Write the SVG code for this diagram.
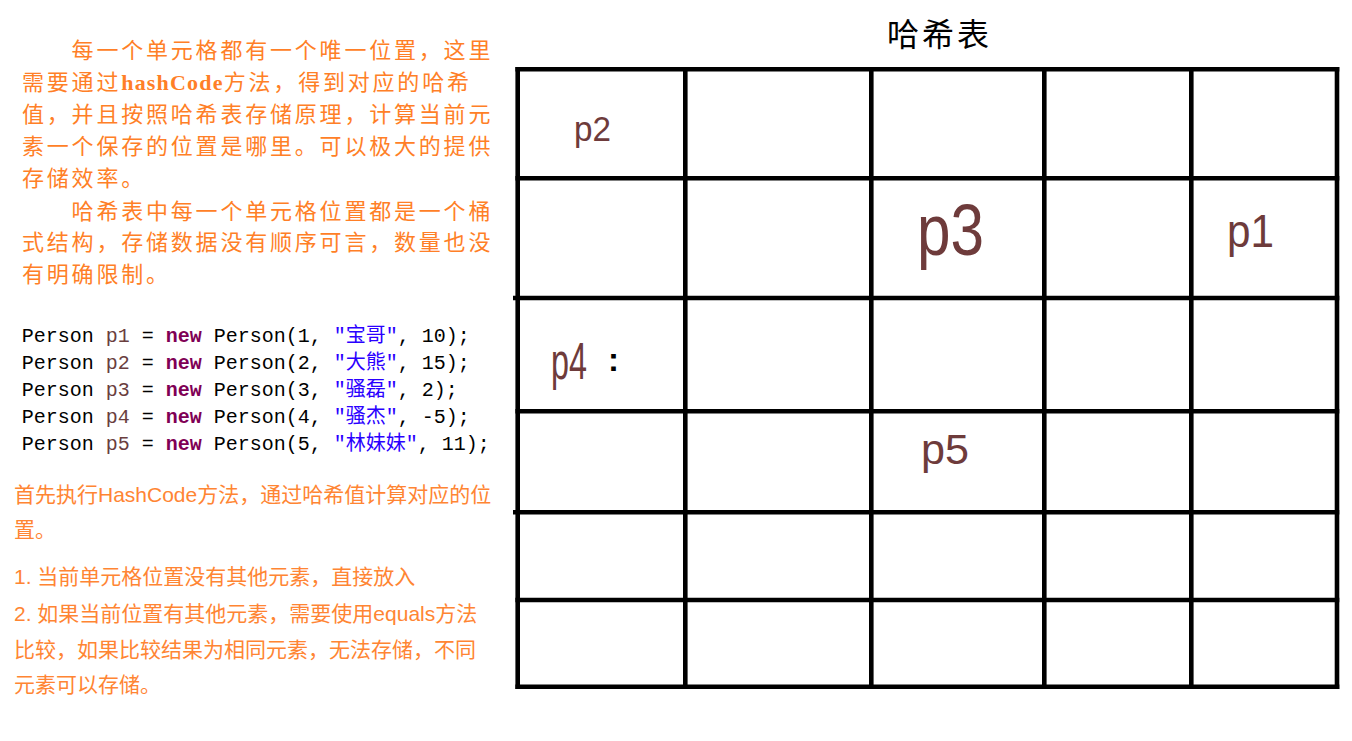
<svg xmlns="http://www.w3.org/2000/svg" width="1352" height="741" viewBox="0 0 1352 741">
<style>
.p1t{font-family:"Liberation Serif","Noto Sans CJK SC",serif;font-size:22px;letter-spacing:2.8px;fill:#FF7F27;}
.lat{font-weight:bold;letter-spacing:1.2px;}
.p2t{font-family:"Liberation Sans","Noto Sans CJK SC",sans-serif;font-size:21px;fill:#FF8533;}
.code{font-family:"Liberation Mono","Noto Sans CJK SC",monospace;font-size:20px;fill:#000;}
.v{fill:#6A3E3E;}
.k{fill:#7F0055;font-weight:bold;}
.s{fill:#2A00FF;}
.lbl{font-family:"Liberation Sans","DejaVu Sans",sans-serif;fill:#6E3B3B;}
.grid line{stroke:#000;stroke-width:4.6;}
.title{font-family:"Liberation Serif","Noto Sans CJK SC",serif;font-size:32px;letter-spacing:3px;fill:#000;}
</style>
<rect width="1352" height="741" fill="#fff"/>
<g id="intro">
<text class="p1t" x="71.6" y="58">每一个单元格都有一个唯一位置，这里</text>
<text class="p1t" x="22" y="90">需要通过<tspan class="lat">hashCode</tspan>方法，得到对应的哈希</text>
<text class="p1t" x="22" y="122">值，并且按照哈希表存储原理，计算当前元</text>
<text class="p1t" x="22" y="154">素一个保存的位置是哪里。可以极大的提供</text>
<text class="p1t" x="22" y="186">存储效率。</text>
<text class="p1t" x="71.6" y="219">哈希表中每一个单元格位置都是一个桶</text>
<text class="p1t" x="22" y="250">式结构，存储数据没有顺序可言，数量也没</text>
<text class="p1t" x="22" y="282">有明确限制。</text>
</g>
<g id="code">
<text class="code" x="21.7" y="342.3">Person <tspan class="v">p1</tspan> = <tspan class="k">new</tspan> Person(1, <tspan class="s">"宝哥"</tspan>, 10);</text>
<text class="code" x="21.7" y="369.1">Person <tspan class="v">p2</tspan> = <tspan class="k">new</tspan> Person(2, <tspan class="s">"大熊"</tspan>, 15);</text>
<text class="code" x="21.7" y="395.9">Person <tspan class="v">p3</tspan> = <tspan class="k">new</tspan> Person(3, <tspan class="s">"骚磊"</tspan>, 2);</text>
<text class="code" x="21.7" y="422.7">Person <tspan class="v">p4</tspan> = <tspan class="k">new</tspan> Person(4, <tspan class="s">"骚杰"</tspan>, -5);</text>
<text class="code" x="21.7" y="449.5">Person <tspan class="v">p5</tspan> = <tspan class="k">new</tspan> Person(5, <tspan class="s">"林妹妹"</tspan>, 11);</text>
</g>
<g id="steps">
<text class="p2t" x="14" y="501.5">首先执行HashCode方法，通过哈希值计算对应的位</text>
<text class="p2t" x="14" y="536.5">置。</text>
<text class="p2t" x="14" y="583.5">1. 当前单元格位置没有其他元素，直接放入</text>
<text class="p2t" x="14" y="620.5">2. 如果当前位置有其他元素，需要使用equals方法</text>
<text class="p2t" x="14" y="656.5">比较，如果比较结果为相同元素，无法存储，不同</text>
<text class="p2t" x="14" y="691.5">元素可以存储。</text>
</g>
<g id="title">
<text class="title" x="887" y="46">哈希表</text>
</g>
<g id="table" class="grid">
<line x1="515.4" y1="69.3" x2="1339.3" y2="69.3"/>
<line x1="515.4" y1="178.3" x2="1339.3" y2="178.3"/>
<line x1="513" y1="298" x2="1339.3" y2="298"/>
<line x1="515.4" y1="411.3" x2="1339.3" y2="411.3"/>
<line x1="513" y1="512.3" x2="1339.3" y2="512.3"/>
<line x1="515.4" y1="600" x2="1339.3" y2="600"/>
<line x1="515.4" y1="686.7" x2="1339.3" y2="686.7"/>
<line x1="517.7" y1="67" x2="517.7" y2="689"/>
<line x1="685.3" y1="67" x2="685.3" y2="689"/>
<line x1="871.3" y1="67" x2="871.3" y2="689"/>
<line x1="1044.3" y1="67" x2="1044.3" y2="689"/>
<line x1="1191.3" y1="67" x2="1191.3" y2="689"/>
<line x1="1337" y1="67" x2="1337" y2="689"/>
</g>
<g id="cell-p2"><text class="lbl" x="574" y="141" font-size="35" textLength="37" lengthAdjust="spacingAndGlyphs">p2</text></g>
<g id="cell-p3"><text class="lbl" x="917" y="255" font-size="72" textLength="67" lengthAdjust="spacingAndGlyphs">p3</text></g>
<g id="cell-p1"><text class="lbl" x="1227" y="247" font-size="47" textLength="47" lengthAdjust="spacingAndGlyphs">p1</text></g>
<g id="cell-p4"><text class="lbl" x="551" y="379" font-size="52" textLength="36" lengthAdjust="spacingAndGlyphs">p4</text><text x="608" y="371" font-family="Liberation Sans, sans-serif" font-size="33" font-weight="bold" fill="#000">:</text></g>
<g id="cell-p5"><text class="lbl" x="921" y="464" font-size="42" textLength="48" lengthAdjust="spacingAndGlyphs">p5</text></g>
</svg>
